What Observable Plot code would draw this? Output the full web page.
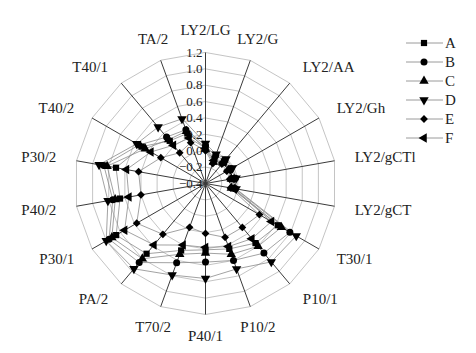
<!DOCTYPE html>
<html>
<head>
<meta charset="utf-8">
<script src="https://cdn.jsdelivr.net/npm/d3@7"></script>
<script src="https://cdn.jsdelivr.net/npm/@observablehq/plot@0.6"></script>
<style>
  html, body { margin: 0; padding: 0; background: #fff; }
  #wrap { position: relative; width: 476px; height: 353px; overflow: hidden; }
  #legend { position: absolute; left: 0; top: 0; }
</style>
</head>
<body>
<div id="wrap"></div>
<script>
// ---- data ----
const axes = ["LY2/LG","LY2/G","LY2/AA","LY2/Gh","LY2/gCTl","LY2/gCT","T30/1","P10/1","P10/2","P40/1","T70/2","PA/2","P30/1","P40/2","P30/2","T40/2","T40/1","TA/2"];
const seriesNames = ["A","B","C","D","E","F"];
const A = [0.04,-0.08,-0.05,-0.06,-0.06,-0.05,0.62,0.55,0.45,0.41,0.47,0.72,0.86,0.66,0.71,0.50,0.28,0.25];
const B = [0.06,-0.04,-0.03,-0.04,-0.03,-0.03,0.79,0.71,0.60,0.56,0.63,0.86,0.96,0.75,0.86,0.54,0.34,0.30];
const C = [0.02,-0.12,-0.07,-0.08,-0.08,-0.08,0.67,0.60,0.52,0.45,0.52,0.80,0.92,0.72,0.82,0.45,0.30,0.28];
const D = [0.09,-0.02,-0.01,-0.02,-0.02,-0.02,0.88,0.85,0.71,0.76,0.79,0.96,1.00,0.81,0.92,0.57,0.50,0.44];
const E = [0.00,-0.14,-0.09,-0.10,-0.10,-0.09,0.36,0.30,0.30,0.21,0.17,0.41,0.57,0.40,0.43,0.23,0.09,0.13];
const F = [0.03,-0.10,-0.06,-0.07,-0.07,-0.06,0.53,0.48,0.42,0.38,0.40,0.58,0.74,0.55,0.58,0.37,0.21,0.19];
const tickValues = [-0.4,-0.2,0.0,0.2,0.4,0.6,0.8,1.0,1.2];
const rMin = -0.4, rMax = 1.2;

// ---- symbols ----
const s3 = Math.sqrt(3);
function tri(dir) {
  return { draw(ctx, size) {
    const y = -Math.sqrt(size / (s3 * 3));
    let pts = [[0, y * 2], [-s3 * y, -y], [s3 * y, -y]];
    if (dir === "down") pts = pts.map(([a, b]) => [a, -b]);
    if (dir === "left") pts = pts.map(([a, b]) => [b, a]);
    ctx.moveTo(pts[0][0], pts[0][1]);
    ctx.lineTo(pts[1][0], pts[1][1]);
    ctx.lineTo(pts[2][0], pts[2][1]);
    ctx.closePath();
  }};
}
const symbols = [d3.symbolSquare, d3.symbolCircle, tri("up"), tri("down"), d3.symbolDiamond2, tri("left")];

// ---- geometry helpers ----
const n = axes.length;
const ang = i => i * 2 * Math.PI / n;
const px = (v, i) => (v - rMin) * Math.sin(ang(i));
const py = (v, i) => (v - rMin) * Math.cos(ang(i));

const seriesVals = [A, B, C, D, E, F];
const rows = [];
seriesNames.forEach((s, k) => seriesVals[k].forEach((v, i) => rows.push({series: s, axis: axes[i], i, v})));

const rings = [];
tickValues.filter(t => t > rMin).forEach(t => axes.forEach((a, i) => rings.push({t, i})));

const spokes = axes.map((a, i) => ({a, i}));

const labels = axes.map((a, i) => {
  const s = Math.sin(ang(i));
  const anchor = s > 0.5 ? "start" : s < -0.5 ? "end" : "middle";
  const rl = anchor === "middle" ? 1.87 : 1.85;
  return {a, i, anchor, x: rl * Math.sin(ang(i)), y: rl * Math.cos(ang(i))};
});

const fmt = d3.format(".1f");

const chart = Plot.plot({
  width: 476,
  height: 353,
  marginLeft: 74,
  marginRight: 140,
  marginTop: 52,
  marginBottom: 39,
  x: {domain: [-(rMax - rMin), rMax - rMin], axis: null},
  y: {domain: [-(rMax - rMin), rMax - rMin], axis: null},
  symbol: {domain: seriesNames, range: symbols},
  style: {fontFamily: "'Liberation Serif', 'Times New Roman', serif", fontSize: "15px", background: "#fff", color: "#222"},
  marks: [
    Plot.line(rings, {x: d => px(d.t, d.i), y: d => py(d.t, d.i), z: "t", curve: "linear-closed", stroke: "#bdbdbd", strokeWidth: 0.9}),
    Plot.link(spokes, {x1: 0, y1: 0, x2: d => px(rMax, d.i), y2: d => py(rMax, d.i), stroke: "#3a3a3a", strokeWidth: 1}),
    Plot.line(rows, {x: d => px(d.v, d.i), y: d => py(d.v, d.i), z: "series", curve: "linear-closed", stroke: "#8a8a8a", strokeWidth: 0.8}),
    Plot.text(tickValues, {x: 0, y: t => t - rMin, text: t => fmt(t), textAnchor: "end", dx: -3, fontSize: 13, fill: "#222"}),
    Plot.dot(rows, {x: d => px(d.v, d.i), y: d => py(d.v, d.i), symbol: "series", fill: "#000", stroke: "none", r: 3.5}),
    Plot.text(labels.filter(d => d.anchor === "start"), {x: "x", y: "y", text: "a", textAnchor: "start", fill: "#222", fontSize: 15}),
    Plot.text(labels.filter(d => d.anchor === "end"), {x: "x", y: "y", text: "a", textAnchor: "end", fill: "#222", fontSize: 15}),
    Plot.text(labels.filter(d => d.anchor === "middle"), {x: "x", y: "y", text: "a", textAnchor: "middle", fill: "#222", fontSize: 15})
  ]
});
const wrap = document.getElementById("wrap");
wrap.appendChild(chart);

// ---- legend ----
const leg = d3.select(wrap).append("svg").attr("id", "legend").attr("width", 476).attr("height", 353);
seriesNames.forEach((s, k) => {
  const y = 43 + k * 19;
  const g = leg.append("g");
  g.append("line").attr("x1", 406).attr("x2", 443).attr("y1", y).attr("y2", y).attr("stroke", "#9a9a9a").attr("stroke-width", 1);
  g.append("path").attr("d", d3.symbol(symbols[k], Math.PI * 3.5 * 3.5)()).attr("transform", `translate(424,${y})`).attr("fill", "#000");
  g.append("text").attr("x", 445).attr("y", y).attr("dy", "0.35em").attr("font-family", "'Liberation Serif', 'Times New Roman', serif").attr("font-size", 15).attr("fill", "#222").text(s);
});
</script>
</body>
</html>
